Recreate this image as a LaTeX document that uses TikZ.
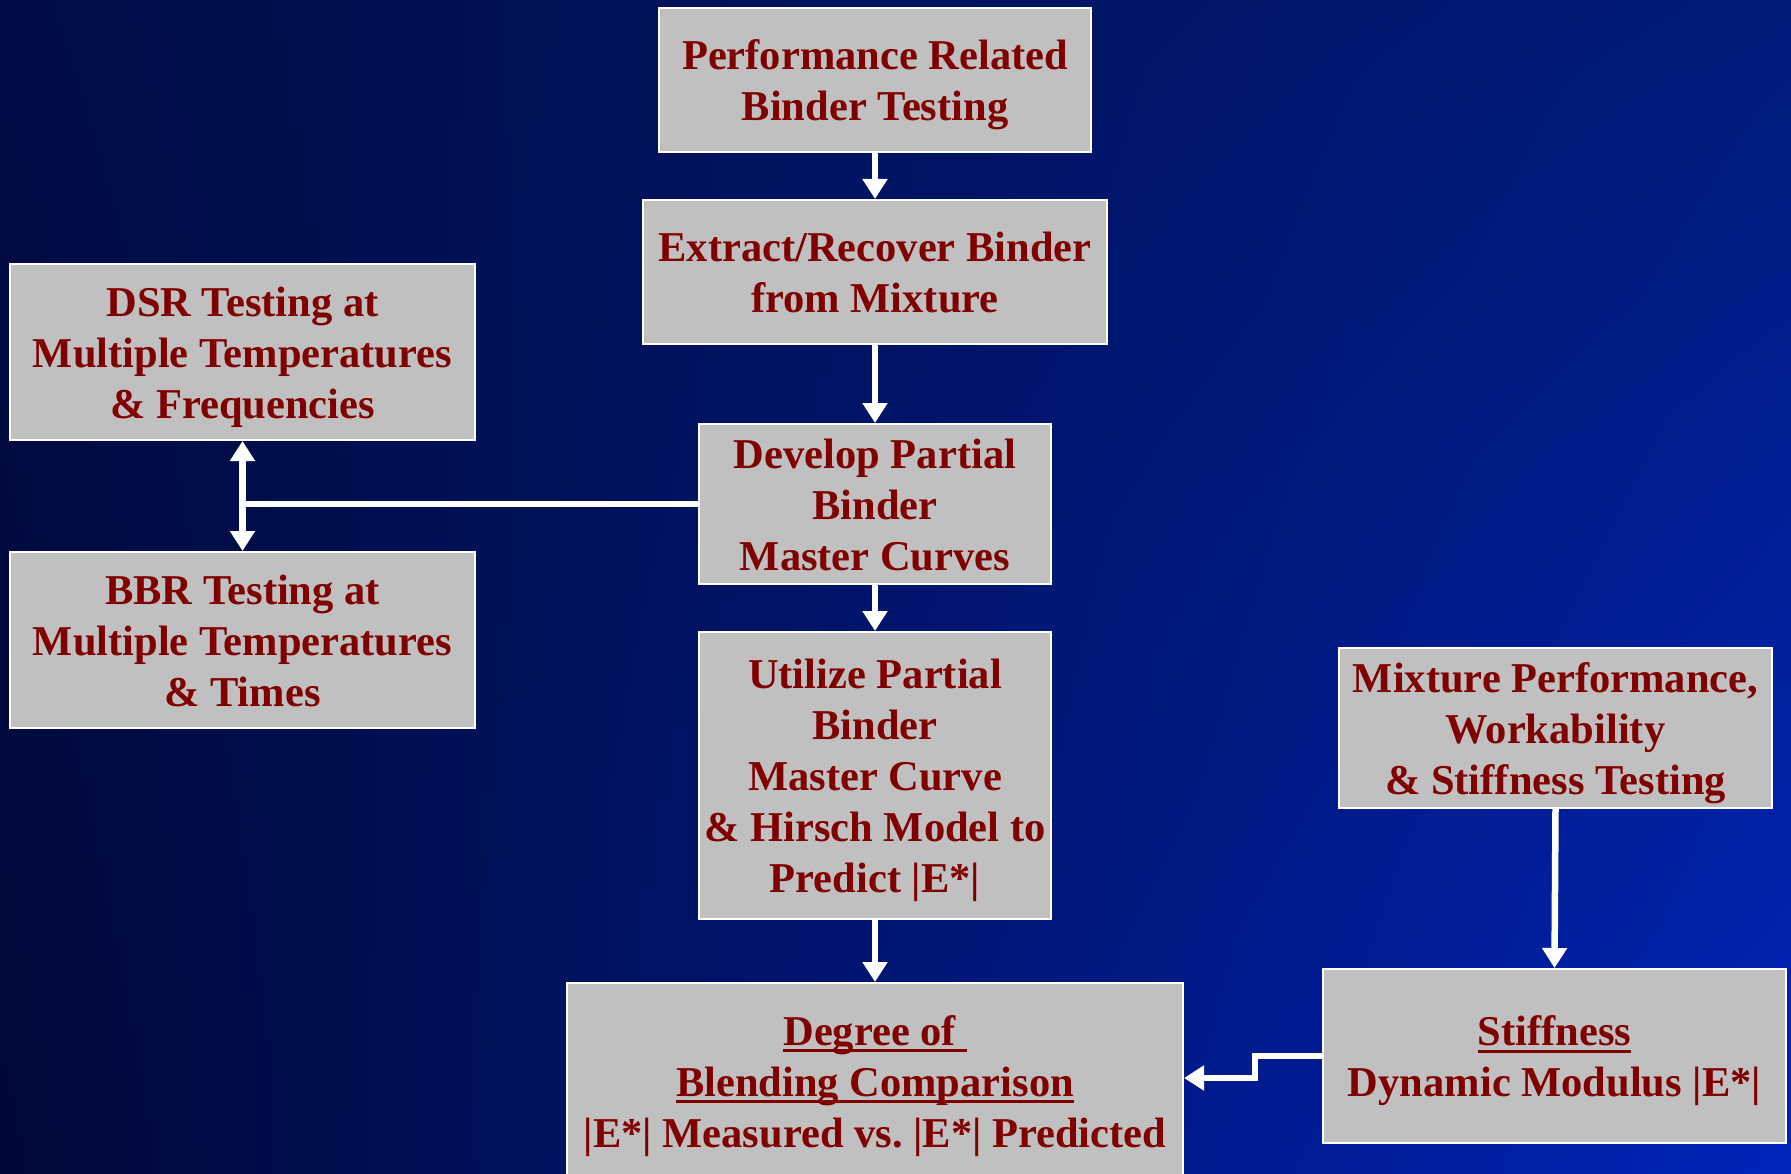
\documentclass[tikz,border=0pt]{standalone}
\usepackage{fontspec}
\setmainfont{Liberation Serif}
\frenchspacing
\newsavebox\myulbox
\newcommand\myul[1]{\sbox\myulbox{#1}\rlap{\rule[-7pt]{\wd\myulbox}{2.8pt}}\usebox\myulbox}
\newcommand\boxtext[1]{\raisebox{-5pt}[\height][\depth]{\begin{tabular}{@{}c@{}}#1\end{tabular}}}
\usetikzlibrary{arrows.meta,shadings}
\definecolor{boxgray}{HTML}{C0C0C0}
\definecolor{txtred}{HTML}{800000}
\definecolor{bgUL}{HTML}{000C46}
\definecolor{bgUR}{HTML}{001C7A}
\definecolor{bgLL}{HTML}{000836}
\definecolor{bgLR}{HTML}{0024BA}
\tikzset{
  box/.style={draw=white, line width=2pt, fill=boxgray, text=txtred,
    inner sep=0pt,
    font=\fontsize{42.5}{51}\selectfont\bfseries},
  conn/.style={draw=white, line width=6.5pt},
  arr/.style={conn, -{Triangle[width=24pt,length=20pt]}},
  darr/.style={conn, {Triangle[width=24pt,length=20pt]}-{Triangle[width=24pt,length=20pt]}}
}
\begin{document}
\begin{tikzpicture}[x=1pt,y=-1pt]
\useasboundingbox (0,0) rectangle (1791,1174);
\clip (0,0) rectangle (1791,1174);
\shade[upper left=bgUL, upper right=bgUR, lower left=bgLL, lower right=bgLR] (0,0) rectangle (1791,1174);

\node[box, minimum width=432pt, minimum height=144pt] (perf) at (875,80) {\boxtext{Performance Related\\Binder Testing}};
\node[box, minimum width=464pt, minimum height=144pt] (extract) at (875,272) {\boxtext{Extract/Recover Binder\\from Mixture}};
\node[box, minimum width=465pt, minimum height=176pt] (dsr) at (242.5,352) {\boxtext{DSR Testing at\\Multiple Temperatures\\\& Frequencies}};
\node[box, minimum width=352pt, minimum height=160pt] (develop) at (875,504) {\boxtext{Develop Partial\\Binder\\Master Curves}};
\node[box, minimum width=465pt, minimum height=176pt] (bbr) at (242.5,640) {\boxtext{BBR Testing at\\Multiple Temperatures\\\& Times}};
\node[box, minimum width=352pt, minimum height=287pt] (utilize) at (875,775.5) {\boxtext{Utilize Partial\\Binder\\Master Curve\\\& Hirsch Model to\\Predict |E*|}};
\node[box, minimum width=433pt, minimum height=160pt] (mixture) at (1555.5,728) {\boxtext{Mixture Performance,\\Workability\\\& Stiffness Testing}};
\node[box, minimum width=616pt, minimum height=196pt] (degree) at (875,1081) {\boxtext{\myul{Degree of\ }\\\myul{Blending Comparison}\\|E*| Measured vs. |E*| Predicted}};
\node[box, minimum width=463pt, minimum height=174pt] (stiff) at (1554.5,1056) {\boxtext{\myul{Stiffness}\\Dynamic Modulus |E*|}};

\draw[arr] (perf.south) -- (extract.north);
\draw[arr] (extract.south) -- (develop.north);
\draw[arr] (develop.south) -- (utilize.north);
\draw[arr] (utilize.south) -- (degree.north);
\draw[darr] (dsr.south) -- (bbr.north);
\coordinate (junc) at (242.5,504);
\draw[conn] (develop.west) -- (junc);
\draw[arr] (mixture.south) -- (stiff.north);
\coordinate (bend1) at (1255,1056);
\coordinate (bend2) at (1255,1078);
\coordinate (target) at (1184,1078);
\draw[conn, -{Triangle[width=24pt,length=20pt]}] (stiff.west) -- (bend1) -- (bend2) -- (target);
\end{tikzpicture}
\end{document}
